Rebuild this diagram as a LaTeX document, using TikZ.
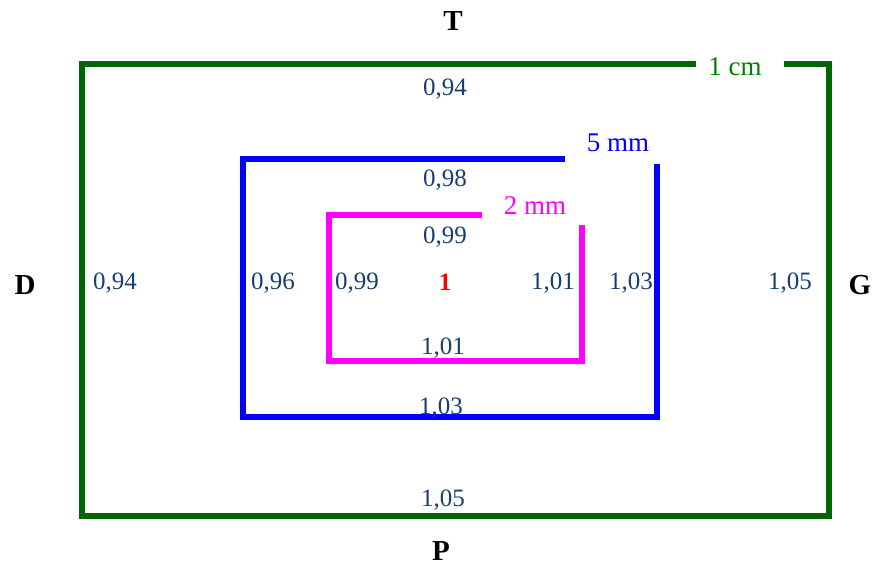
\documentclass[tikz,border=0pt]{standalone}
\usepackage{fontspec}
\setmainfont{Liberation Serif}
\usepackage{tikz}
\usetikzlibrary{positioning}
\definecolor{darkgreen}{RGB}{0,102,0}
\definecolor{textgreen}{RGB}{0,128,0}
\definecolor{valblue}{RGB}{22,62,112}
\definecolor{pink}{RGB}{255,0,255}
\definecolor{pureblue}{RGB}{0,0,255}
\begin{document}
\begin{tikzpicture}[x=1pt,y=-1pt,
  val/.style={text=valblue,font=\fontsize{25}{28}\selectfont,inner sep=0pt},
  size/.style={font=\fontsize{27}{30}\selectfont,inner sep=0pt},
  side/.style={font=\fontsize{29}{32}\selectfont\bfseries,inner sep=0pt},
  frame/.style={line width=5.5pt,line cap=rect}]
\useasboundingbox (0,0) rectangle (875,566);
% frames
\draw[frame,darkgreen] (693,64) -- (82,64) -- (82,516) -- (829,516) -- (829,64) -- (787,64);
\draw[frame,pureblue] (562,159) -- (243,159) -- (243,417) -- (657,417) -- (657,167);
\draw[frame,pink] (479,215) -- (329,215) -- (329,361) -- (582,361) -- (582,228);
% sizes
\node[size,text=textgreen] (cm1) at (735,67) {1 cm};
\node[size,text=pureblue] (mm5) at (618,143) {5 mm};
\node[size,text=pink] (mm2) at (535,206) {2 mm};
% sides
\node[side] (T) at (453,21) {T};
\node[side] (P) at (441,551) {P};
\node[side] (D) at (25,285) {D};
\node[side] (G) at (860,285) {G};
% values
\node[val] (top1) at (445,89) {0,94};
\node[val] (top2) at (445,180) {0,98};
\node[val] (top3) at (445,237) {0,99};
\node[text=red,font=\fontsize{25}{28}\selectfont\bfseries,inner sep=0pt] (mid) at (445,282) {1};
\node[val] (bot3) at (443,348) {1,01};
\node[val] (bot2) at (441,408) {1,03};
\node[val] (bot1) at (443,500) {1,05};
\node[val] (lft1) at (115,283) {0,94};
\node[val] (lft2) at (273,283) {0,96};
\node[val] (lft3) at (357,283) {0,99};
\node[val] (rgt3) at (553,283) {1,01};
\node[val] (rgt2) at (631,283) {1,03};
\node[val] (rgt1) at (790,283) {1,05};
\end{tikzpicture}
\end{document}
